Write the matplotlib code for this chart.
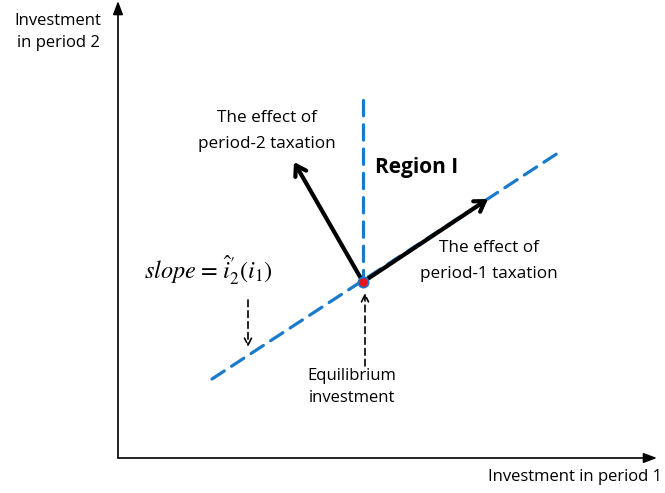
import matplotlib
matplotlib.use("Agg")
import matplotlib.pyplot as plt

plt.rcParams['font.family'] = ['Open Sans', 'DejaVu Sans']
plt.rcParams['mathtext.fontset'] = 'stix'

# Diagram geometry (pixel-like coordinates, y downward)
origin = (118, 458)
x_axis_end = (657, 458)
y_axis_end = (118, 1)
equilibrium = (363, 282)
slope_line_x = [212, 558]
slope_line_y = [379, 153]
region_line_x = [363, 363]
region_line_y = [100, 282]
arrow_p1_tip = (488, 199)
arrow_p2_tip = (294, 162)
slope_note_arrow = [(248, 300), (248, 347)]
eq_note_arrow = [(365, 366), (365, 293)]

labels = {
    'ylab': "Investment\nin period 2",
    'xlab': "Investment in period 1",
    'p2': "The effect of\nperiod-2 taxation",
    'p1': "The effect of\nperiod-1 taxation",
    'region': "Region I",
    'eq': "Equilibrium\ninvestment",
    'slope': r"$slope\!\;{=}\!\;\hat{i}_2^{\prime}(i_1)$",
}

fig = plt.figure(figsize=(6.65, 4.93), dpi=100)
ax = fig.add_axes([0, 0, 1, 1])
ax.set_xlim(0, 665)
ax.set_ylim(493, 0)
ax.axis('off')

# axes
ax.annotate('', xy=x_axis_end, xytext=origin,
            arrowprops=dict(arrowstyle='-|>,head_length=0.8,head_width=0.3', color='black', lw=1.2, shrinkA=0, shrinkB=0))
ax.annotate('', xy=y_axis_end, xytext=origin,
            arrowprops=dict(arrowstyle='-|>,head_length=0.8,head_width=0.3', color='black', lw=1.2, shrinkA=0, shrinkB=0))

blue = '#1a7acc'
ax.plot(slope_line_x, slope_line_y, color=blue, lw=2.3, dashes=(4.6, 2.7), dash_capstyle='round')
ax.plot(region_line_x, region_line_y, color=blue, lw=2.3, dashes=(4.8, 2.8), dash_capstyle='round')

# thick arrows
for tip in (arrow_p1_tip, arrow_p2_tip):
    ax.annotate('', xy=tip, xytext=equilibrium,
                arrowprops=dict(arrowstyle='->,head_length=0.7,head_width=0.45', color='black', lw=3, shrinkA=0, shrinkB=0))

# equilibrium point
ax.scatter([equilibrium[0]], [equilibrium[1]], s=55, color='#e8141c', edgecolor=blue, linewidth=1.2, zorder=5)

# dashed note arrows
for start, end in (slope_note_arrow, eq_note_arrow):
    ax.annotate('', xy=end, xytext=start,
                arrowprops=dict(arrowstyle='->,head_length=0.5,head_width=0.25', color='black', lw=1.2,
                                linestyle=(0, (4, 2.5)), shrinkA=0, shrinkB=0))

ax.text(58, 32, labels['ylab'], ha='center', va='center', fontsize=12, linespacing=1.45)
ax.text(662, 477, labels['xlab'], ha='right', va='center', fontsize=12)
ax.text(267, 131, labels['p2'], ha='center', va='center', fontsize=12.3, linespacing=1.75)
ax.text(489, 261, labels['p1'], ha='center', va='center', fontsize=12.3, linespacing=1.75)
ax.text(375, 168, labels['region'], ha='left', va='center', fontsize=15, fontweight='bold')
ax.text(352, 387, labels['eq'], ha='center', va='center', fontsize=12, linespacing=1.45)
ax.text(144, 270, labels['slope'], ha='left', va='center', fontsize=17.5)

fig.savefig('out.png', dpi=100)
